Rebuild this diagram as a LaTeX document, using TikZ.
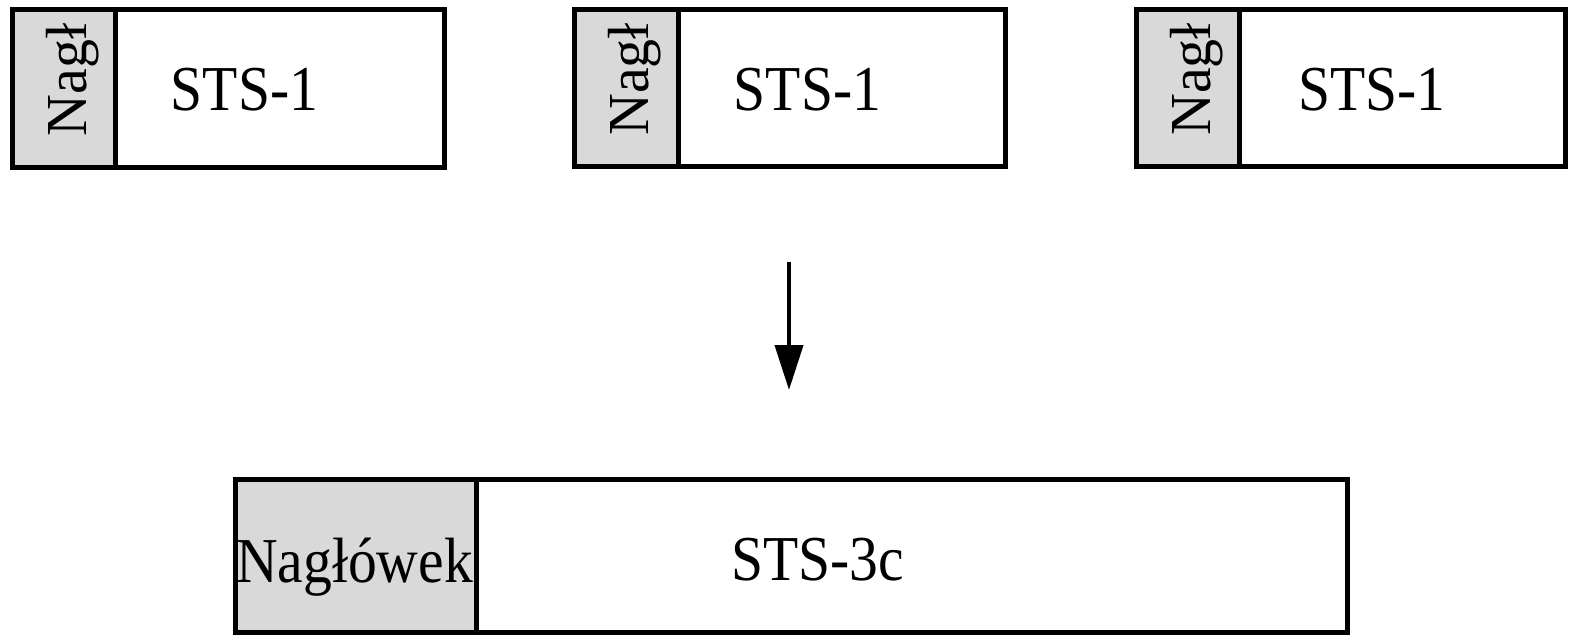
\documentclass[tikz,border=0pt]{standalone}
\usepackage{fontspec}
\setmainfont{Liberation Serif}
\usetikzlibrary{arrows.meta,positioning}
\definecolor{hdrgray}{gray}{0.85}
\begin{document}
\begin{tikzpicture}[x=1pt,y=-1pt,
    frame/.style={draw, line width=5pt, rectangle, inner sep=0pt, outer sep=0pt, anchor=north west},
    hdr/.style={frame, fill=hdrgray},
    txt/.style={font=\fontsize{64}{64}\selectfont, inner sep=0pt, xscale=0.9},
    vtxt/.style={font=\fontsize{58}{58}\selectfont, inner sep=0pt, rotate=90}]
  \useasboundingbox (0,0) rectangle (1570,636);

  % Three STS-1 frames, header on the left
  \node[hdr, minimum width=103pt, minimum height=158pt] (h1) at (12,10) {};
  \node[frame, minimum width=329pt, minimum height=158pt] (p1) at (h1.north east) {};
  \node[hdr, minimum width=104pt, minimum height=157pt] (h2) at (574,10) {};
  \node[frame, minimum width=327pt, minimum height=157pt] (p2) at (h2.north east) {};
  \node[hdr, minimum width=103pt, minimum height=157pt] (h3) at (1136,10) {};
  \node[frame, minimum width=326pt, minimum height=157pt] (p3) at (h3.north east) {};

  % Labels
  \node[vtxt] at ([xshift=9pt, yshift=9pt]h1.center) {Nagł};
  \node[vtxt] at ([xshift=9pt, yshift=9pt]h2.center) {Nagł};
  \node[vtxt] at ([xshift=9pt, yshift=9pt]h3.center) {Nagł};
  \node[txt, anchor=base] at ([xshift=-35pt, yshift=57pt]p1.south) {STS-1};
  \node[txt, anchor=base] at ([xshift=-34pt, yshift=56pt]p2.south) {STS-1};
  \node[txt, anchor=base] at ([xshift=-30pt, yshift=56pt]p3.south) {STS-1};

  % Arrow down to the concatenated frame
  \coordinate (atop) at (789,262);
  \coordinate (abot) at (789,390);
  \draw[line width=4pt, -{Triangle[length=45pt, width=28pt]}] (atop) -- (abot);

  % STS-3c frame
  \node[hdr, minimum width=241pt, minimum height=153pt] (h4) at (235,479) {};
  \node[frame, minimum width=871pt, minimum height=153pt] (p4) at (h4.north east) {};
  \node[txt, anchor=base] at ([xshift=-1pt, yshift=50pt]h4.south) {Nagłówek};
  \node[txt, anchor=base] at ([xshift=-94pt, yshift=52pt]p4.south) {STS-3c};
\end{tikzpicture}
\end{document}
